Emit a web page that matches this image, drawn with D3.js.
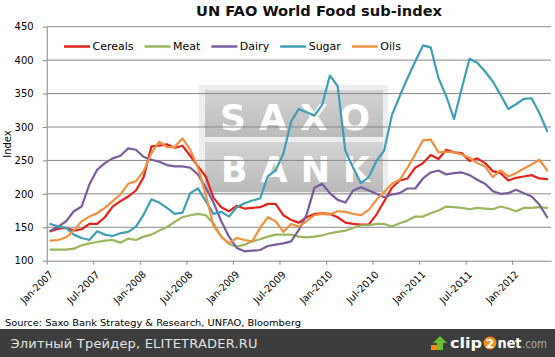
<!DOCTYPE html>
<html><head><meta charset="utf-8">
<script src="https://cdn.jsdelivr.net/npm/d3@7"></script>
<style>body{margin:0;background:#fff}svg{display:block}</style>
</head><body>
<svg width="555" height="357"></svg>
<script>
// ---------- data ----------
const months = d3.timeMonth.range(new Date(2007, 0, 1), new Date(2012, 5, 1)); // Jan-2007 .. May-2012
const tickLabels = ["Jan-2007","Jul-2007","Jan-2008","Jul-2008","Jan-2009","Jul-2009","Jan-2010","Jul-2010","Jan-2011","Jul-2011","Jan-2012"];
const yTicks = [100,150,200,250,300,350,400,450];
const seriesNames = ["Cereals","Meat","Dairy","Sugar","Oils"];
const seriesColors = ["#e3231c","#9bb55a","#7a5c9e","#3f9db5","#f0913f"];
const cereals = [144,148,149,145,147,155,155,165,181,189,196,205,225,271,272,274,269,272,257,241,226,194,
  180,174,182,178,179,180,185,185,168,161,157,165,170,171,170,165,157,155,154,154,169,189,
  209,220,223,239,246,258,252,266,262,261,249,253,246,234,231,220,224,226,228,223,222];
const meat = [116.5,116.5,116.5,118,123,126,128,130,131,127,133,131,136,139,145,150,158,165,168,170,168,156,
  136,125,121,124,129,132,136,139,139,139,136,135,136,138,141,143,145,149,153,153,155,155,
  151,156,160,166,166,171,175,181,180,179,177,179,178,177,181,178,174,179,179,180,179];
const dairy = [145,151,159,174,181,214,236,246,253,257,268,266,255,251,248,243,241,241,239,229,209,187,
  159,136,119,114,115,116,122,124,126,129,146,169,209,215,201,191,187,205,210,205,200,195,
  199,201,208,208,223,232,235,229,231,232,228,221,215,204,200,201,206,201,196,184,165];
const sugar = [155,151,149,139,134,131,144,139,137,141,143,151,169,192,187,179,170,172,201,208,189,170,
  173,166,180,186,190,193,226,235,260,308,327,322,317,333,377,361,264,239,216,225,249,265,
  318,346,373,398,422,419,373,346,312,358,402,396,383,368,348,327,334,342,343,321,294];
const oils = [130,131,135,145,159,166,171,179,189,199,215,219,234,261,278,270,270,283,266,239,199,152,
  136,126,134,131,129,149,165,159,143,155,151,159,168,170,169,174,173,170,168,176,191,203,
  215,221,239,259,280,281,262,263,262,259,254,246,241,225,235,226,231,238,244,251,235];
const seriesValues = [cereals, meat, dairy, sugar, oils];

// ---------- layout ----------
const svg = d3.select("svg");
const FONT = "DejaVu Sans";
const L = 46.7, R = 551, T = 26.7, B = 260.7;
const x = d3.scaleLinear().domain([0, months.length]).range([L, R]);
const y = d3.scaleLinear().domain([100, 450]).range([B, T]);
const tickIdx = tickLabels.map((d, i) => i * 6);

svg.append("rect").attr("width", 555).attr("height", 357).attr("fill", "#fff");

// title
svg.append("text").attr("x", 319).attr("y", 16).attr("text-anchor", "middle")
  .attr("font-family", FONT).attr("font-weight", "bold").attr("font-size", 13.5)
  .attr("fill", "#111").attr("textLength", 246).attr("lengthAdjust", "spacingAndGlyphs")
  .text("UN FAO World Food sub-index");

// watermark
const defs = svg.append("defs");
const g1 = defs.append("linearGradient").attr("id", "wmg").attr("x1", 0).attr("y1", 0).attr("x2", 0).attr("y2", 1);
g1.append("stop").attr("offset", "0").attr("stop-color", "#d4d4d4");
g1.append("stop").attr("offset", "1").attr("stop-color", "#bababa");
const wm = svg.append("g");
wm.append("rect").attr("x", 199).attr("y", 85).attr("width", 189).attr("height", 110).attr("fill", "#ededed");
wm.append("rect").attr("x", 205).attr("y", 90).attr("width", 178).attr("height", 47).attr("fill", "url(#wmg)");
wm.append("rect").attr("x", 205).attr("y", 142).attr("width", 178).attr("height", 50).attr("fill", "url(#wmg)");
wm.append("text").attr("x", 220).attr("y", 130).attr("font-family", FONT).attr("font-weight", "bold").attr("font-size", 36)
  .attr("fill", "#fff").attr("textLength", 150).attr("lengthAdjust", "spacing").text("SAXO");
wm.append("text").attr("x", 221).attr("y", 182).attr("font-family", FONT).attr("font-weight", "bold").attr("font-size", 35)
  .attr("fill", "#fff").attr("textLength", 149).attr("lengthAdjust", "spacing").text("BANK");

// gridlines
svg.append("g").selectAll("line").data(yTicks.filter(v => v > 100)).join("line")
  .attr("x1", L).attr("x2", R).attr("y1", d => y(d)).attr("y2", d => y(d))
  .attr("stroke", "#878787").attr("stroke-width", 1);

// y axis
const ya = svg.append("g").attr("transform", `translate(${L},0)`)
  .call(d3.axisLeft(y).tickValues(yTicks).tickSize(4).tickSizeOuter(0).tickPadding(9));
ya.select(".domain").attr("stroke", "#878787");
ya.selectAll(".tick line").attr("stroke", "#878787");
ya.selectAll("text").attr("font-family", FONT).attr("font-size", 10).attr("fill", "#000");

// x axis
const xa = svg.append("g").attr("transform", `translate(0,${B})`)
  .call(d3.axisBottom(x).tickValues(tickIdx).tickFormat((d, i) => tickLabels[i]).tickSize(4).tickSizeOuter(0));
xa.select(".domain").attr("stroke", "#878787");
xa.selectAll(".tick line").attr("stroke", "#878787");
xa.selectAll("text").attr("font-family", FONT).attr("font-size", 10).attr("fill", "#000")
  .attr("x", 0).attr("y", 0).attr("dy", "0.35em").attr("text-anchor", "end")
  .attr("textLength", 41).attr("lengthAdjust", "spacingAndGlyphs")
  .attr("transform", "translate(4,12) rotate(-45)");

// y label
svg.append("text").attr("transform", "translate(11,144) rotate(-90)").attr("text-anchor", "middle")
  .attr("font-family", FONT).attr("font-size", 10).attr("fill", "#000").text("Index");

// lines
const line = d3.line().x((d, i) => x(i + 0.5)).y(d => y(d));
svg.append("g").selectAll("path").data(seriesValues).join("path")
  .attr("d", line).attr("fill", "none")
  .attr("stroke", (d, i) => seriesColors[i]).attr("stroke-width", 2.2)
  .attr("stroke-linejoin", "round").attr("stroke-linecap", "round");

// legend
const lg = svg.append("g");
let cx = 64;
seriesNames.forEach((n, i) => {
  lg.append("line").attr("x1", cx).attr("x2", cx + 26).attr("y1", 46.5).attr("y2", 46.5)
    .attr("stroke", seriesColors[i]).attr("stroke-width", 2.5);
  const t = lg.append("text").attr("x", cx + 28.5).attr("y", 46.5).attr("dy", "0.35em")
    .attr("font-family", FONT).attr("font-size", 11).attr("fill", "#000").text(n);
  cx += 28.5 + t.node().getComputedTextLength() + 11;
});

// source
svg.append("text").attr("x", 5).attr("y", 326).attr("font-family", FONT).attr("font-size", 9)
  .attr("fill", "#000").attr("textLength", 296).attr("lengthAdjust", "spacingAndGlyphs")
  .text("Source:  Saxo Bank Strategy & Research, UNFAO, Bloomberg");

// footer bar
svg.append("rect").attr("x", 0).attr("y", 329).attr("width", 555).attr("height", 28).attr("fill", "#3d3d3d");
svg.append("text").attr("x", 10.5).attr("y", 348).attr("font-family", FONT).attr("font-size", 13)
  .attr("fill", "#e4e4e4").attr("textLength", 247).attr("lengthAdjust", "spacing")
  .text("Элитный Трейдер, ELITETRADER.RU");

// clip2net logo
const lo = svg.append("g");
lo.append("rect").attr("x", 431).attr("y", 345).attr("width", 10).attr("height", 5).attr("fill", "#f08a1d");
lo.append("path").attr("d", "M440,336 L447,343 L443,343 L443,350 L437,350 L437,343 L433,343 Z").attr("fill", "#6cbf2e");
lo.append("text").attr("x", 450).attr("y", 348).attr("font-family", FONT).attr("font-weight", "bold")
  .attr("font-size", 14).attr("fill", "#fff").attr("textLength", 32).attr("lengthAdjust", "spacingAndGlyphs").text("clip");
lo.append("circle").attr("cx", 490).attr("cy", 343).attr("r", 6.5).attr("fill", "#f0901e");
lo.append("text").attr("x", 490).attr("y", 347.5).attr("text-anchor", "middle").attr("font-family", FONT)
  .attr("font-weight", "bold").attr("font-size", 12).attr("fill", "#fff").text("2");
lo.append("text").attr("x", 497.5).attr("y", 348).attr("font-family", FONT).attr("font-weight", "bold")
  .attr("font-size", 14).attr("fill", "#fff").attr("textLength", 24).attr("lengthAdjust", "spacingAndGlyphs").text("net");
lo.append("text").attr("x", 522).attr("y", 348).attr("font-family", FONT)
  .attr("font-size", 13).attr("fill", "#a8a8a8").attr("textLength", 25).attr("lengthAdjust", "spacingAndGlyphs").text(".com");
</script>
</body></html>
